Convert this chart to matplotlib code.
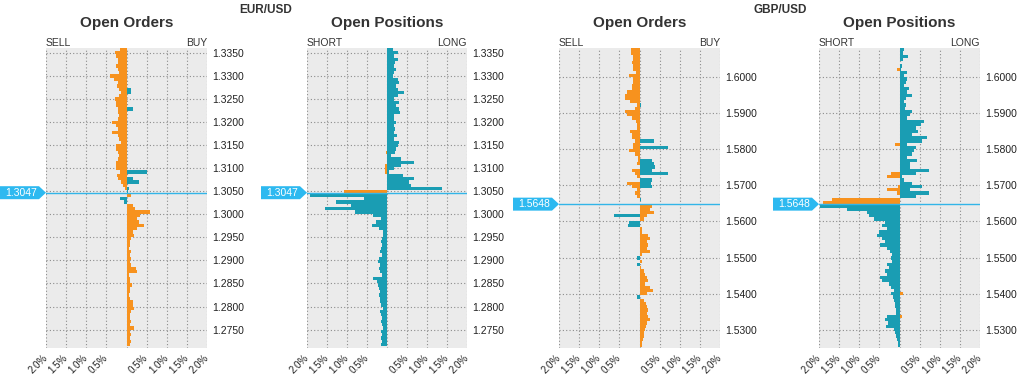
import numpy as np
import matplotlib
matplotlib.use('Agg')
import matplotlib.pyplot as plt
from matplotlib.patches import Polygon
import matplotlib.transforms as mtransforms

plt.rcParams['font.family'] = ['Liberation Sans', 'DejaVu Sans']

# price buckets: top bucket, bucket width, number of buckets, current price
eur_top, eur_step, eur_n = 1.3358, 0.00072, 90
eur_price = 1.3047
gbp_top, gbp_step, gbp_n = 1.6075, 0.0009, 92
gbp_price = 1.5648

eur_ticks = [1.2750, 1.2800, 1.2850, 1.2900, 1.2950, 1.3000, 1.3050,
             1.3100, 1.3150, 1.3200, 1.3250, 1.3300, 1.3350]
gbp_ticks = [1.5300, 1.5400, 1.5500, 1.5600, 1.5700, 1.5800, 1.5900, 1.6000]
pct_ticks = [-2.0, -1.5, -1.0, -0.5, 0.0, 0.5, 1.0, 1.5, 2.0]
pct_labels = ['2.0%', '1.5%', '1.0%', '0.5%', '', '0.5%', '1.0%', '1.5%', '2.0%']

# EUR/USD open orders (% , top bucket first)
eur_ord_sell = [.15, .28, .25, .20, .22, .26, .22, .18, .42, .30,
                .22, .24, .18, .14, .18, .28, .26, .25, .20, .22,
                .18, .20, .35, .26, .22, .35, .22, .18, .14, .25,
                .26, .20, .18, .22, .25, .26, .25, .16, .24, .22,
                .14, .08, .03, 0, 0, .15, .05, 0, 0, 0] + [0] * 40
eur_ord_buy = [0] * 12 + [.12, .12, 0, 0, 0, 0, .16, 0] + [0] * 10 + \
              [0, 0, 0, 0, 0, 0, 0, .52, 0, .16,
               .30, 0, .05, .03, .12, 0, 0, .15, .20, .58,
               .33, .25, .31, .44, .25, .16, .18, .12, .09, .08,
               .06, .12, .08, .12, .08, .12, .23, .25, .06, .08,
               .09, .13, .08, .09, .06, .08, .16, .15, .18, .12,
               .09, .08, .12, .08, .19, .09, .12, .09, .11, .09]

# EUR/USD open positions
eur_pos_short = [0] * 30 + \
                [0, .03, 0, 0, 0, .05, .06, .04, 0, 0,
                 0, 0, 0, 1.07, 1.92, .57, 1.27, .90, 1.55, .80,
                 .36, .15, .27, .37, .19, .11, .11, .12, .15, .12,
                 .15, .17, .12, .19, .22, .17, .19, .17, .12, .35,
                 .25, .22, .19, .17, .21, .17, .18, .15, .11, .17,
                 .15, .12, .15, .12, .11, .15, .13, .15, .13, .15]
eur_pos_long = [.14, .27, .18, .27, .21, .17, .22, .18, .14, .28,
                .31, .22, .27, .43, .27, .18, .29, .22, .31, .33,
                .18, .17, .22, .18, .21, .17, .25, .18, .31, .27,
                .22, .20, .10, .35, .67, .35, .18, .06, .39, .68,
                .56, .60, 1.37, 0, 0, 0, 0, 0, 0, 0] + [0] * 40

# GBP/USD open orders
gbp_ord_sell = [.22, .22, .15, .15, .19, .15, .15, .08, .27, .15,
                .15, .19, .19, .32, .36, .36, .23, .07, .10, .36,
                .30, .19, .08, .07, .07, .23, .19, .19, .10, .15,
                .17, .25, .11, .04, .04, .06, 0, .19, .12, .07,
                0, .32, .19, .07, .10, .05, 0, 0, 0, 0,
                0, .63, 0, .25, .28, 0, 0, 0, 0, 0,
                0, 0, 0, 0, .05, 0, .05, 0, 0, 0,
                0, 0, 0, 0, 0, 0, .05, 0, 0, 0] + [0] * 12
gbp_ord_buy = [0] * 10 + \
              [0, 0, 0, 0, 0, 0, 0, .03, 0, 0,
               0, 0, 0, 0, 0, 0, 0, 0, .35, 0,
               .72, 0, 0, 0, .31, .35, .39, .31, .72, 0,
               .31, .29, .31, 0, 0, 0, .03, 0, .31, .25,
               .35, .18, .10, 0, 0, .06, .05, .22, .25, .18,
               .22, .18, .25, .06, 0, .05, 0, .04, .10, .14,
               .18, .22, .14, .27, .33, .18, 0, .12, .17, .18,
               .21, .18, .22, .25, .18, .17, .14, .12, .10, .08, .07, .06]

# GBP/USD open positions
gbp_pos_short = [0, 0, 0, 0, 0, 0, .06, 0, 0, 0] + [0] * 10 + \
                [0, 0, 0, 0, 0, 0, 0, 0, 0, .10,
                 0, 0, 0, 0, 0, 0, 0, 0, .22, .31,
                 0, 0, .03, .31, .05, 0, 1.68, 1.90, 1.98, 1.30,
                 .80, .77, .64, .35, .43, .31, .52, .56, .43, .35,
                 .48, .31, .23, .18, .20, .18, .31, .27, .35, .31,
                 .48, .43, .27, .20, .14, .20, .17, .14, .10, .12,
                 .08, .08, .31, .35, .28, .33, .14, .10, .08, .06, .04, .04]
gbp_pos_long = [.10, .08, .20, .08, 0, .05, .04, .19, .10, .19,
                .15, .11, .23, .19, .32, .17, .11, .17, .13, .32,
                .25, .19, .61, .53, .40, .47, .32, .69, .57, .19,
                .40, .36, .32, .19, .44, .27, .27, .73, .40, .05,
                .10, .32, .57, .27, .73, .40, 0, 0, 0, 0] + [0] * 20 + \
               [0, 0, 0, 0, 0, .08, 0, 0, 0, 0,
                0, 0, .06, 0, 0, 0, 0, 0, 0, 0, 0, 0]

orange = '#F7921E'
teal = '#1A9DB3'
blue = '#33B5E8'
bg = '#EBEBEB'
txt = '#333333'

W, H = 1021, 374
fig = plt.figure(figsize=(W / 100, H / 100), dpi=100)


def panel(x0, x1, top, step, n, price, left, right, yticks, ylim, title, lab_l, lab_r):
    ax = fig.add_axes([x0 / W, 1 - 348 / H, (x1 - x0) / W, 300 / H])
    ax.set_facecolor(bg)
    levels = top - step * np.arange(n)
    above = levels > price
    ax.barh(levels, -np.array(left), height=step, color=np.where(above, orange, teal),
            linewidth=0, zorder=2)
    ax.barh(levels, right, height=step, color=np.where(above, teal, orange),
            linewidth=0, zorder=2)
    ax.axhline(price, color=blue, lw=1, zorder=3)
    ax.set_xlim(-2, 2)
    ax.set_ylim(*ylim)
    ax.set_xticks(pct_ticks)
    ax.set_xticklabels(pct_labels)
    for lab in ax.get_xticklabels():
        lab.set_rotation(45)
        lab.set_ha('right')
        lab.set_va('center')
        lab.set_rotation_mode('anchor')
    ax.yaxis.tick_right()
    ax.set_yticks(yticks)
    ax.set_yticklabels(['%.4f' % t for t in yticks])
    ax.tick_params(axis='y', length=0, pad=4, labelsize=7.5, labelcolor='#222222')
    ax.tick_params(axis='x', length=0, pad=6, labelsize=7, labelcolor='#222222')
    ax.grid(True, color='#8c8c8c', linestyle=(0, (1, 2)), linewidth=0.8, zorder=1)
    ax.set_axisbelow(True)
    for s in ax.spines.values():
        s.set_visible(False)
    ax.text(0, 1.017, lab_l, transform=ax.transAxes, ha='left', va='center',
            fontsize=7.5, color=txt)
    ax.text(1, 1.017, lab_r, transform=ax.transAxes, ha='right', va='center',
            fontsize=7.5, color=txt)
    fig.text((x0 + x1) / 2 / W, 1 - 23 / H, title, ha='center', va='center',
             fontsize=11, fontweight='bold', color=txt)

    # current price tag at the left of the panel
    xd, yd = ax.transData.transform((-2, price))
    hh = 6.5
    verts = [(xd - 46, yd - hh), (xd - 7, yd - hh), (xd, yd),
             (xd - 7, yd + hh), (xd - 46, yd + hh)]
    fig.add_artist(Polygon(verts, closed=True, facecolor='#2DB9F0', edgecolor='none',
                           transform=mtransforms.IdentityTransform()))
    fig.text(xd - 25, yd, '%.4f' % price, ha='center', va='center', fontsize=7.5,
             color='white', transform=mtransforms.IdentityTransform())
    return ax


eur_ylim = (1.2710, 1.3361)
gbp_ylim = (1.5250, 1.6080)

panel(46, 207, eur_top, eur_step, eur_n, eur_price, eur_ord_sell, eur_ord_buy,
      eur_ticks, eur_ylim, 'Open Orders', 'SELL', 'BUY')
panel(307, 467, eur_top, eur_step, eur_n, eur_price, eur_pos_short, eur_pos_long,
      eur_ticks, eur_ylim, 'Open Positions', 'SHORT', 'LONG')
panel(559, 720, gbp_top, gbp_step, gbp_n, gbp_price, gbp_ord_sell, gbp_ord_buy,
      gbp_ticks, gbp_ylim, 'Open Orders', 'SELL', 'BUY')
panel(819, 980, gbp_top, gbp_step, gbp_n, gbp_price, gbp_pos_short, gbp_pos_long,
      gbp_ticks, gbp_ylim, 'Open Positions', 'SHORT', 'LONG')

fig.text(266 / W, 1 - 10 / H, 'EUR/USD', ha='center', va='center', fontsize=8.5,
         fontweight='bold', color=txt)
fig.text(780 / W, 1 - 10 / H, 'GBP/USD', ha='center', va='center', fontsize=8.5,
         fontweight='bold', color=txt)

fig.savefig('out.png', dpi=100)
